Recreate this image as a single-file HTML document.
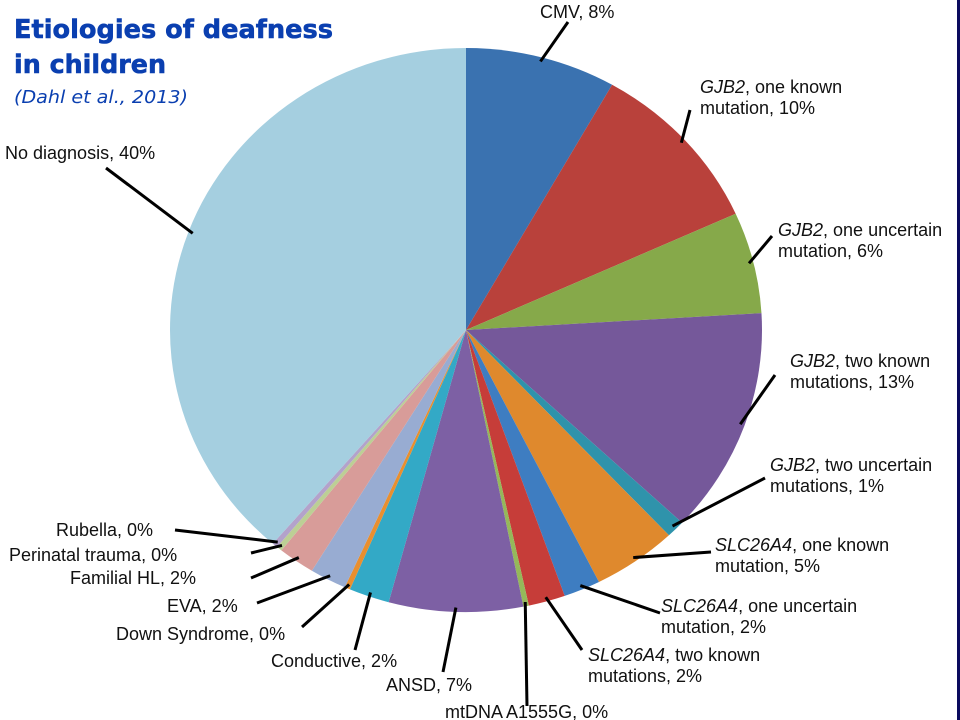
<!DOCTYPE html>
<html><head><meta charset="utf-8"><style>
html,body{margin:0;padding:0;background:#fff;}
svg{display:block;}
</style></head><body>
<svg id="chart" width="960" height="720" viewBox="0 0 960 720" xmlns="http://www.w3.org/2000/svg">
  <rect x="0" y="0" width="960" height="720" fill="#ffffff"/>
  <rect x="957" y="0" width="3" height="720" fill="#0a0a5e"/>
  <text x="14" y="38" font-family="DejaVu Sans, Liberation Sans, sans-serif" font-weight="bold" font-size="26" fill="#0a3fb0" stroke="#0a3fb0" stroke-width="0.6" textLength="319" lengthAdjust="spacingAndGlyphs">Etiologies of deafness</text>
  <text x="14" y="73" font-family="DejaVu Sans, Liberation Sans, sans-serif" font-weight="bold" font-size="26" fill="#0a3fb0" stroke="#0a3fb0" stroke-width="0.6" textLength="152" lengthAdjust="spacingAndGlyphs">in children</text>
  <text x="14" y="103" font-family="DejaVu Sans, Liberation Sans, sans-serif" font-style="italic" font-size="18" fill="#0a3fb0" textLength="174" lengthAdjust="spacingAndGlyphs">(Dahl et al., 2013)</text>
  <g id="slices"></g>
  <g id="leaders"></g>
  <g id="labels" font-family="Liberation Sans, sans-serif" font-size="18" fill="#111"></g>
</svg>
<script>
const categories = ["CMV","GJB2, one known mutation","GJB2, one uncertain mutation","GJB2, two known mutations","GJB2, two uncertain mutations","SLC26A4, one known mutation","SLC26A4, one uncertain mutation","SLC26A4, two known mutations","mtDNA A1555G","ANSD","Conductive","Down Syndrome","EVA","Familial HL","Perinatal trauma","Rubella","No diagnosis"];
const values = [8.2,10.0,5.8,12.9,1.0,4.6,2.0,2.0,0.3,7.3,2.2,0.3,2.0,2.0,0.3,0.3,38.6];
const printedValues = ["8%","10%","6%","13%","1%","5%","2%","2%","0%","7%","2%","0%","2%","2%","0%","0%","40%"];
const colors = ["#3a72b0","#b9413b","#86a94a","#75589a","#2f93ab","#df892d","#3e7dc1","#c63d39","#95b85a","#7d60a4","#33a9c6","#e98f2f","#98acd2","#d89c99","#bccf95","#b3a2cb","#a5cfe0"];
const labelLayout = [
 {lines:[["","CMV, 8%"]], x:540, y:18, lx:568, ly:22},
 {lines:[["GJB2",", one known"],["","mutation, 10%"]], x:700, y:93, lx:690, ly:110},
 {lines:[["GJB2",", one uncertain"],["","mutation, 6%"]], x:778, y:236, lx:772, ly:236},
 {lines:[["GJB2",", two known"],["","mutations, 13%"]], x:790, y:367, lx:775, ly:375},
 {lines:[["GJB2",", two uncertain"],["","mutations, 1%"]], x:770, y:471, lx:765, ly:478},
 {lines:[["SLC26A4",", one known"],["","mutation, 5%"]], x:715, y:551, lx:711, ly:552},
 {lines:[["SLC26A4",", one uncertain"],["","mutation, 2%"]], x:661, y:612, lx:660, ly:613},
 {lines:[["SLC26A4",", two known"],["","mutations, 2%"]], x:588, y:661, lx:582, ly:650},
 {lines:[["","mtDNA A1555G, 0%"]], x:445, y:718, lx:527, ly:706},
 {lines:[["","ANSD, 7%"]], x:386, y:691, lx:443, ly:672},
 {lines:[["","Conductive, 2%"]], x:271, y:667, lx:355, ly:650},
 {lines:[["","Down Syndrome, 0%"]], x:116, y:640, lx:302, ly:627},
 {lines:[["","EVA, 2%"]], x:167, y:612, lx:257, ly:603},
 {lines:[["","Familial HL, 2%"]], x:70, y:584, lx:251, ly:578},
 {lines:[["","Perinatal trauma, 0%"]], x:9, y:561, lx:251, ly:553},
 {lines:[["","Rubella, 0%"]], x:56, y:536, lx:175, ly:530},
 {lines:[["","No diagnosis, 40%"]], x:5, y:159, lx:106, ly:168}
];
const cx=466, cy=330, rx=296, ry=282;
const NS="http://www.w3.org/2000/svg";
const total = values.reduce((a,b)=>a+b,0);
function angleScale(v){ return v/total*2*Math.PI; }
function pt(t,k){ k=k||1; return [cx+rx*k*Math.sin(t), cy-ry*k*Math.cos(t)]; }
const gSl=document.getElementById('slices'), gLd=document.getElementById('leaders'), gLb=document.getElementById('labels');
let acc=0;
values.forEach((v,i)=>{
  const a0=angleScale(acc), a1=angleScale(acc+v); acc+=v;
  const p0=pt(a0), p1=pt(a1);
  const large=(a1-a0)>Math.PI?1:0;
  const path=document.createElementNS(NS,'path');
  path.setAttribute('d',`M${cx},${cy} L${p0[0]},${p0[1]} A${rx},${ry} 0 ${large} 1 ${p1[0]},${p1[1]} Z`);
  path.setAttribute('fill',colors[i]);
  
  
  gSl.appendChild(path);
  const mid=(a0+a1)/2, pe=pt(mid,0.985);
  const L=labelLayout[i];
  const ln=document.createElementNS(NS,'line');
  ln.setAttribute('x1',L.lx); ln.setAttribute('y1',L.ly);
  ln.setAttribute('x2',pe[0]); ln.setAttribute('y2',pe[1]);
  ln.setAttribute('stroke','#000'); ln.setAttribute('stroke-width','3');
  
  
  gLd.appendChild(ln);
  L.lines.forEach((parts,j)=>{
    const t=document.createElementNS(NS,'text');
    t.setAttribute('x',L.x); t.setAttribute('y',L.y+j*21);
    
    
    if(parts[0]){const s=document.createElementNS(NS,'tspan');s.setAttribute('font-style','italic');s.textContent=parts[0];t.appendChild(s);}
    const s2=document.createElementNS(NS,'tspan');
    s2.textContent=parts[1]; t.appendChild(s2);
    gLb.appendChild(t);
  });
});
</script>
</body></html>
